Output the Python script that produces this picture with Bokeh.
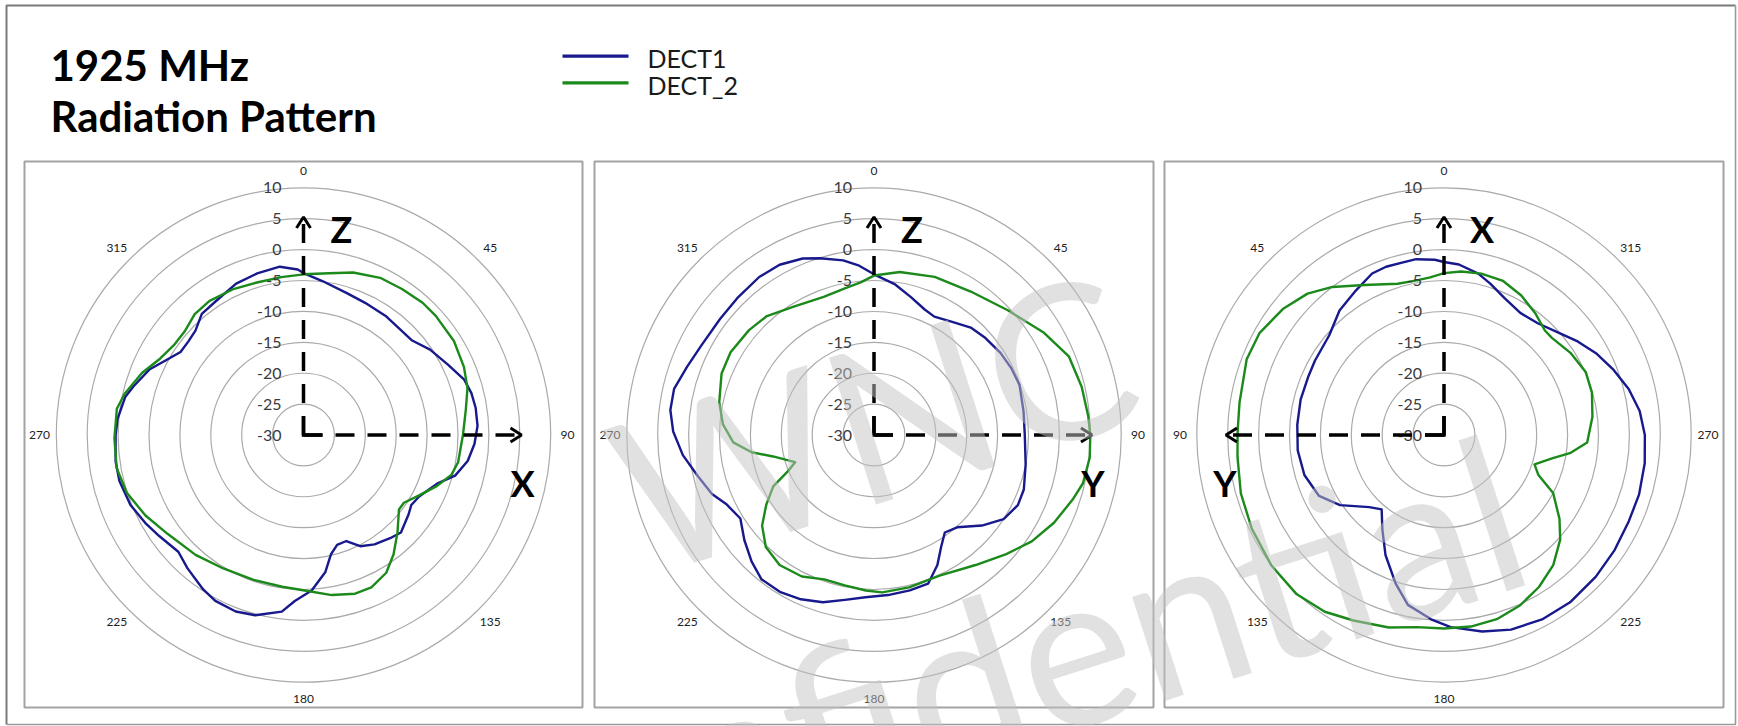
import numpy as np
from bokeh.plotting import figure
from bokeh.models import Range1d
from bokeh.embed import file_html
from bokeh.resources import INLINE
from bokeh.core.properties import value

# ---------------- data ----------------
TITLE_LINES = ["1925 MHz", "Radiation Pattern"]
SERIES_NAMES = ["DECT1", "DECT_2"]
RING_DB = [-30, -25, -20, -15, -10, -5, 0, 5, 10]
RING_LABELS = ["-30", "-25", "-20", "-15", "-10", "-5", "0", "5", "10"]
ANGLE_TICKS = [0, 45, 90, 135, 180, 225, 270, 315]
ANGLE_LABELS = ["0", "45", "90", "135", "180", "225", "270", "315"]
AXIS_NAMES = [("Z", "X"), ("Z", "Y"), ("X", "Y")]
WATERMARK = ["WNC", "Confidential"]

# panel 1 (XZ cut)
p1_dect1_ang = [0, 7, 17, 25, 35, 49, 56, 64, 71, 76, 81, 87, 93, 99, 105, 110, 118, 123, 127, 135,
                140, 147, 153, 158, 163, 167, 171, 177, 183, 187, 195, 201, 208, 213, 221, 227, 235,
                241, 248, 256, 262, 270, 275, 282, 286, 293, 299, 304, 309, 314, 320, 327, 336, 344,
                352, 358]
p1_dect1_db = [-3.8, -4.9, -6.0, -6.4, -6.6, -6.7, -5.3, -4.0, -2.5, -2.0, -1.8, -1.8, -2.3, -3.1,
               -4.6, -7.0, -8.8, -9.2, -8.7, -7.7, -8.2, -8.9, -9.8, -11.5, -11.4, -10.2, -7.5,
               -4.8, -3.1, -1.2, 0.2, 0.6, 0.4, -0.2, -1.4, -2.3, -1.5, -0.7, 0.2, 0.7, 0.7, 0.4,
               0.2, -0.5, -1.4, -2.9, -4.8, -6.0, -6.0, -5.7, -4.4, -4.1, -3.2, -2.8, -2.5, -3.2]
p1_dect2_ang = [0, 9, 17, 26, 34, 42, 48, 58, 67, 74, 81, 90, 100, 105, 111, 118, 124, 128, 136,
                143, 149, 156, 162, 170, 179, 188, 199, 211, 222, 234, 243, 252, 260, 269, 278,
                283, 291, 298, 305, 311, 318, 325, 334, 343, 352]
p1_dect2_db = [-4.0, -3.5, -2.5, -1.7, -1.5, -1.2, -1.2, -1.3, -1.8, -2.4, -3.4, -4.2, -4.6, -5.2,
               -6.9, -9.0, -10.4, -10.4, -8.1, -5.8, -4.0, -3.0, -3.0, -3.7, -4.8, -5.2, -5.2,
               -4.8, -3.9, -2.8, -1.3, 0.1, 0.7, 0.6, 0.5, -0.3, -2.0, -3.7, -4.5, -4.5, -3.7,
               -3.5, -3.8, -4.2, -4.2]

# panel 2 (YZ cut)
p2_dect1_ang = [0, 8, 15, 22, 27, 35, 42, 49, 57, 64, 71, 81, 90, 101, 110, 116, 123, 130, 138,
                144, 149, 154, 160, 167, 175, 183, 190, 197, 204, 211, 218, 224, 231, 238, 245,
                250, 257, 264, 271, 277, 283, 290, 297, 307, 315, 324, 331, 338, 343, 350, 355]
p2_dect1_db = [-4.0, -5.4, -6.9, -8.1, -8.5, -7.7, -6.6, -6.1, -5.6, -5.3, -5.1, -5.5, -5.6, -5.0,
               -4.2, -4.1, -5.0, -7.2, -9.9, -10.5, -8.9, -6.6, -4.4, -4.2, -4.0, -3.7, -2.9,
               -1.7, -0.9, -0.4, -0.4, -1.5, -3.0, -4.5, -3.6, -2.1, -0.7, 1.1, 2.5, 3.2, 3.2,
               2.2, 1.5, 1.2, 1.3, 1.6, 1.5, 0.8, -0.1, -1.3, -2.5]
p2_dect2_ang = [0, 9, 21, 34, 47, 59, 68, 77, 85, 90, 96, 103, 108, 116, 124, 132, 142, 155, 167,
                177, 183, 191, 199, 207, 216, 224, 231, 237, 243, 247, 251, 258, 262, 267, 274,
                282, 292, 300, 310, 318, 328, 340, 349, 355]
p2_dect2_db = [-4.2, -3.3, -2.6, -2.0, -0.4, 2.1, 4.0, 4.5, 4.8, 5.0, 5.1, 4.7, 3.8, 2.4, 0.8,
               -1.2, -3.3, -4.9, -4.7, -4.5, -4.8, -5.2, -5.3, -4.3, -4.0, -4.8, -6.7, -9.2,
               -11.7, -14.8, -16.5, -13.3, -10.0, -7.2, -5.5, -4.4, -3.4, -3.2, -3.6, -4.1,
               -5.5, -6.2, -5.8, -5.2]

# panel 3 (XY cut, angles run counter-clockwise)
p3_dect1_ang = [0, 3, 9, 14, 19, 24, 32, 40, 49, 60, 67, 76, 86, 96, 106, 116, 124, 134, 140, 147,
                154, 162, 168, 176, 182, 191, 199, 208, 217, 227, 236, 245, 253, 262, 270, 277,
                284, 291, 298, 305, 311, 320, 328, 336, 343, 348, 355]
p3_dect1_db = [-2.0, -1.6, -1.2, -1.3, -1.2, -1.4, -2.7, -3.7, -5.4, -5.9, -6.1, -6.1, -6.2, -6.2,
               -6.5, -7.5, -9.7, -13.2, -14.3, -11.7, -8.4, -4.7, -1.9, -0.1, 1.1, 2.4, 3.3,
               3.8, 3.9, 3.6, 3.3, 3.0, 3.0, 2.8, 2.5, 1.9, 0.8, -0.6, -2.0, -3.6, -5.0, -6.4,
               -6.7, -5.8, -4.4, -3.3, -2.3]
p3_dect2_ang = [0, 5, 10, 17, 28, 37, 44, 52, 61, 69, 81, 89, 96, 106, 116, 127, 137, 146, 154,
                164, 172, 180, 188, 196, 204, 212, 220, 228, 234, 242, 247, 252, 258, 262, 267,
                277, 286, 294, 303, 312, 316, 323, 331, 339, 347, 354]
p3_dect2_db = [-3.8, -4.4, -4.6, -4.4, -2.5, 0.0, 1.8, 3.1, 4.1, 4.2, 3.5, 3.4, 3.6, 4.2, 4.6,
               5.0, 5.1, 4.5, 3.4, 2.4, 1.4, 1.3, 1.3, 1.0, 0.2, -1.0, -2.5, -4.7, -6.9, -10.0,
               -13.4, -14.6, -12.0, -9.3, -6.8, -5.8, -5.1, -4.9, -5.6, -6.5, -6.5, -5.4, -4.2,
               -3.3, -3.2, -3.4]

PANELS = [
    [(p1_dect1_ang, p1_dect1_db), (p1_dect2_ang, p1_dect2_db)],
    [(p2_dect1_ang, p2_dect1_db), (p2_dect2_ang, p2_dect2_db)],
    [(p3_dect1_ang, p3_dect1_db), (p3_dect2_ang, p3_dect2_db)],
]

# ---------------- layout / style ----------------
SERIES_COLORS = ["#17198c", "#1b8a1b"]
FONT = "Lato"
PANEL_LEFT = [24, 594, 1164]
PANEL_RIGHT = [582, 1153, 1723]
PANEL_TOP, PANEL_BOTTOM = 161, 707
CENTER_Y = 434.5
DIRECTION = [1, 1, -1]          # +1 clockwise, -1 counter-clockwise
PX_PER_DB = 6.18
DB_MIN = -30
ARROW_R = 218
LABEL_R = 264

W, H = 1738, 726
p = figure(width=W, height=H, x_range=Range1d(0, W), y_range=Range1d(H, 0),
           output_backend="svg", toolbar_location=None, min_border=0,
           x_axis_location=None, y_axis_location=None)
p.grid.visible = False
p.outline_line_color = None
p.background_fill_color = "white"
p.border_fill_color = "white"


def polar_xy(cx, cy, d, ang, db):
    a = np.radians(np.asarray(ang, float))
    r = (np.asarray(db, float) - DB_MIN) * PX_PER_DB
    return cx + d * r * np.sin(a), cy - r * np.cos(a)


# outer frame
p.line(x=[6, 6, 1735], y=[724, 5, 5], line_color="#7a7a7a", line_width=2)
p.line(x=[6, 1735, 1735], y=[724, 724, 5], line_color="#9a9a9a", line_width=1.6)

# title
p.text(x=[50, 50], y=[64, 115], text=TITLE_LINES, text_font=value(FONT),
       text_font_style="bold", text_font_size="42px", text_color="black",
       text_baseline="middle", text_align="left")

# legend
for i, (name, col) in enumerate(zip(SERIES_NAMES, SERIES_COLORS)):
    yy = 55.7 + i * 26.6
    p.line(x=[562, 628], y=[yy, yy], line_color=col, line_width=3.3)
    p.text(x=[647], y=[yy + 2], text=[name], text_font=value(FONT),
           text_font_size="25px", text_color="#1a1a1a", text_baseline="middle")

for k in range(3):
    L, R = PANEL_LEFT[k], PANEL_RIGHT[k]
    cx, cy, d = (L + R) / 2, CENTER_Y, DIRECTION[k]
    p.quad(left=[L], right=[R], top=[PANEL_TOP], bottom=[PANEL_BOTTOM],
           fill_color="white", line_color="#a3a3a3", line_width=2)
    # rings
    radii = [(v - DB_MIN) * PX_PER_DB for v in RING_DB[1:]]
    p.circle(x=[cx] * len(radii), y=[cy] * len(radii), radius=radii,
             fill_color=None, line_color="#aaaaaa", line_width=1.2)
    # series
    for (ang, db), col in zip(PANELS[k], SERIES_COLORS):
        xs, ys = polar_xy(cx, cy, d, list(ang) + [ang[0]], list(db) + [db[0]])
        p.line(x=xs, y=ys, line_color=col, line_width=2.4, line_join="round")
    # radial labels
    p.text(x=[cx - 22] * len(RING_DB),
           y=[cy - (v - DB_MIN) * PX_PER_DB for v in RING_DB],
           text=RING_LABELS, text_font=value(FONT), text_font_size="16px",
           text_color="#3a3a3a", text_align="right", text_baseline="middle")
    # angle labels
    ax, ay = polar_xy(cx, cy, d, ANGLE_TICKS, [DB_MIN + LABEL_R / PX_PER_DB] * len(ANGLE_TICKS))
    p.text(x=ax, y=ay, text=ANGLE_LABELS, text_font=value(FONT), text_font_size="12px",
           text_color="#222222", text_align="center", text_baseline="middle")
    # dashed coordinate arrows
    L_len = 19
    p.line(x=[cx, cx], y=[cy, cy - ARROW_R + 3], line_color="black", line_width=3.5,
           line_dash="19 13")
    p.line(x=[cx, cx + d * (ARROW_R - 3)], y=[cy, cy], line_color="black", line_width=3.5,
           line_dash="19 13")
    p.line(x=[cx, cx, cx + d * L_len], y=[cy - L_len, cy, cy], line_color="black",
           line_width=3.5, line_join="miter")
    p.line(x=[cx - 7, cx, cx + 7], y=[cy - ARROW_R + 11, cy - ARROW_R, cy - ARROW_R + 11],
           line_color="black", line_width=3)
    tipx = cx + d * ARROW_R
    p.line(x=[tipx - d * 11, tipx, tipx - d * 11], y=[cy - 7, cy, cy + 7],
           line_color="black", line_width=3)
    vname, hname = AXIS_NAMES[k]
    p.text(x=[cx + 38, cx + d * 219], y=[cy - 206, cy + 48], text=[vname, hname],
           text_font=value(FONT), text_font_style="bold", text_font_size="36px",
           text_color="black", text_align="center", text_baseline="middle")

# watermark
p.text(x=[872, 968], y=[418, 676], text=WATERMARK, angle=0.31, text_font=value(FONT),
       text_font_size="215px", text_color="#c4c4c4", text_alpha=0.5,
       text_align="center", text_baseline="middle")

open("out.html", "w").write(file_html(p, INLINE))
